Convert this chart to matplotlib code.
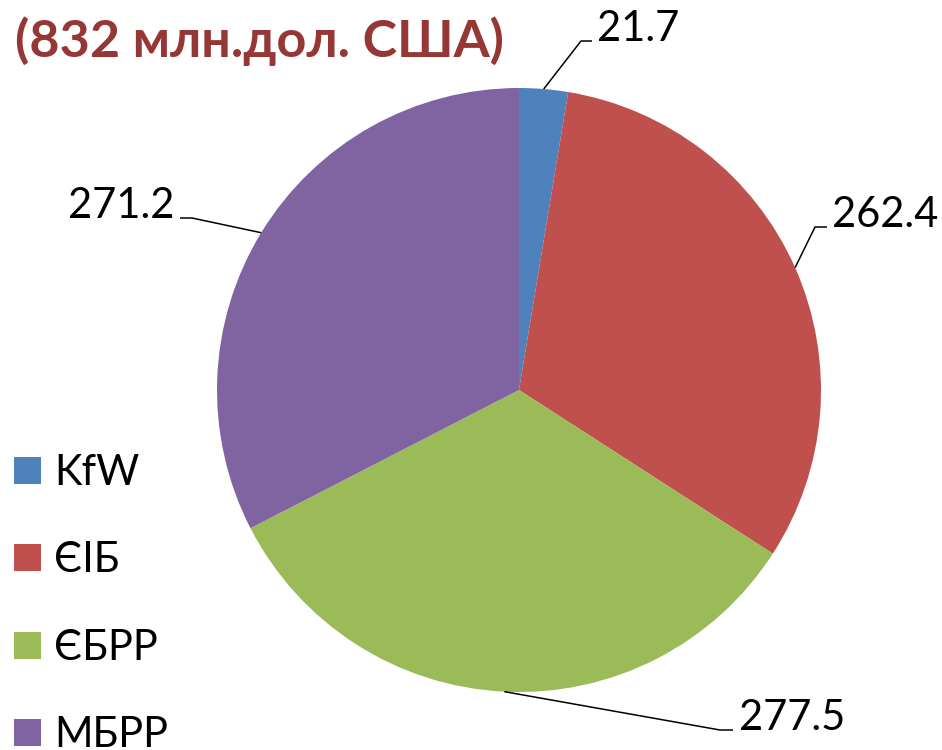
import matplotlib
matplotlib.use('Agg')
import numpy as np
import matplotlib.pyplot as plt
from matplotlib.patches import Rectangle

# data
labels = ['KfW', 'ЄІБ', 'ЄБРР', 'МБРР']
values = [21.7, 262.4, 277.5, 271.2]
colors = ['#4F81BD', '#C0504D', '#9BBB59', '#8064A2']
title = '(832 млн.дол. США)'

W, H = 942, 750
plt.rcParams['font.family'] = ['Lato', 'DejaVu Sans']

fig = plt.figure(figsize=(W / 100, H / 100), dpi=100)
ax = fig.add_axes([0, 0, 1, 1])


def py(y):
    # pixel row (top-down) -> data y (bottom-up)
    return H - y


cx, cy, r = 519, py(390), 302
wedges, _ = ax.pie(values, colors=colors, startangle=90, counterclock=False,
                   center=(cx, cy), radius=r, wedgeprops=dict(linewidth=0))
ax.set_xlim(0, W)
ax.set_ylim(0, H)
ax.set_aspect('equal')
ax.axis('off')

# leader lines: elbow, end, text x, alignment (pixel coords)
label_layout = [
    ((581, 41), (592, 41), 597, 'left'),
    ((815, 227), (827, 227), 832, 'left'),
    ((720, 730), (733, 730), 739, 'left'),
    ((192, 218), (180, 218), 174, 'right'),
]
for w, v, (elb, end, tx, ha) in zip(wedges, values, label_layout):
    mid = np.deg2rad((w.theta1 + w.theta2) / 2)
    sx, sy = cx + r * np.cos(mid), cy + r * np.sin(mid)
    ax.plot([sx, elb[0], end[0]], [sy, py(elb[1]), py(end[1])],
            color='black', lw=1.1, solid_capstyle='butt')
    ax.text(tx, py(end[1]), f'{v}', fontsize=30, ha=ha, va='baseline',
            color='black')

# legend
for i, (lab, col) in enumerate(zip(labels, colors)):
    top = 457 + i * 87.3
    ax.add_patch(Rectangle((14, py(top + 27)), 27, 27, color=col, lw=0))
    ax.text(54, py(top + 28), lab, fontsize=30, ha='left', va='baseline')

ax.text(15, py(57), title, fontsize=37.5, fontweight='bold', color='#953735',
        ha='left', va='baseline')

fig.savefig('out.png', dpi=100)
